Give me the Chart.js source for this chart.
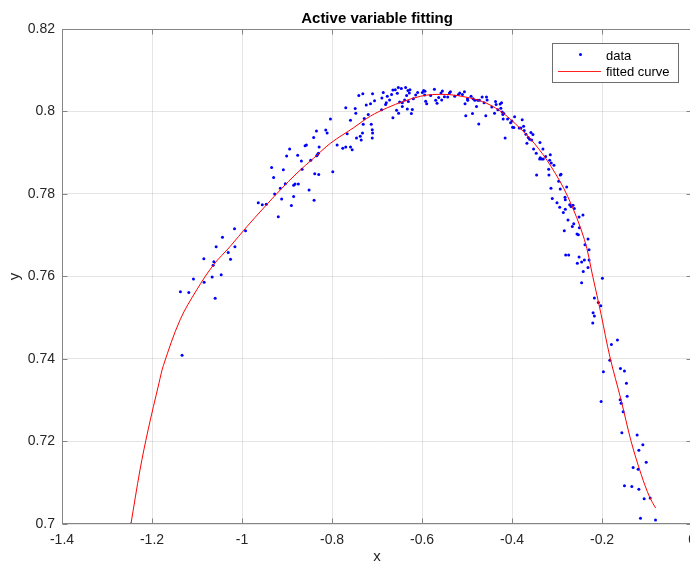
<!DOCTYPE html>
<html><head><meta charset="utf-8">
<script src="https://cdn.jsdelivr.net/npm/chart.js@4"></script>
<style>
html,body{margin:0;padding:0;overflow:hidden;background:#fff;width:690px;height:565px}
#wrap{position:absolute;left:0;top:0;width:704px;height:565px}
</style>
</head><body><div id="wrap"><canvas id="c" width="704" height="565"></canvas></div>
<script>
const chartTitle = 'Active variable fitting';
const xLabel = 'x';
const yLabel = 'y';
const xTicks = [-1.4, -1.2, -1, -0.8, -0.6, -0.4, -0.2, 0];
const yTicks = [0.7, 0.72, 0.74, 0.76, 0.78, 0.8, 0.82];
const legendLabels = ['data', 'fitted curve'];

const dataX = [
-1.1369,-1.1183,-1.1080,-1.1332,-1.0842,-1.0849,-1.0664,-1.0597,-1.0626,-1.0641,
-1.0575,-1.0463,-1.0434,-1.0307,-1.0256,-1.0167,-1.0158,-0.9922,-0.9639,-0.9550,
-0.9461,-0.9343,-0.9298,-0.9276,-0.9194,-0.9149,-0.9120,-0.9082,-0.9038,-0.9009,
-0.8942,-0.8904,-0.8853,-0.8853,-0.8822,-0.8764,-0.8748,-0.8681,-0.8666,-0.8599,
-0.8570,-0.8510,-0.8474,-0.8408,-0.8399,-0.8385,-0.8347,-0.8341,-0.8325,-0.8303,
-0.8287,-0.8296,-0.8140,-0.8109,-0.8036,
-0.7984,-0.7887,-0.7762,-0.7695,-0.7695,-0.7664,-0.7590,-0.7553,-0.7590,-0.7486,
-0.7472,-0.7457,-0.7405,-0.7374,-0.7352,-0.7323,-0.7316,-0.7307,-0.7285,-0.7240,
-0.7196,-0.7145,-0.7129,-0.7107,-0.7100,-0.7100,-0.7107,-0.7056,-0.6900,-0.6893,
-0.6862,-0.6811,-0.6795,-0.6773,-0.6722,-0.6677,-0.6648,-0.6648,-0.6595,-0.6566,
-0.6550,-0.6528,-0.6521,-0.6499,-0.6461,-0.6439,-0.6439,-0.6388,-0.6365,-0.6343,
-0.6327,-0.6314,-0.6305,-0.6283,-0.6269,-0.6238,-0.6216,-0.6194,-0.6142,-0.6098,
-0.5993,-0.5964,-0.5942,-0.5920,-0.5897,-0.5935,-0.5809,-0.5726,-0.5697,-0.5668,
-0.5630,-0.5579,-0.5564,-0.5548,-0.5503,-0.5430,-0.5392,-0.5370,-0.5274,-0.5192,
-0.5163,-0.5103,-0.5058,-0.5045,-0.5029,-0.4991,-0.4985,-0.4911,-0.4880,-0.4866,
-0.4828,-0.4791,-0.4762,-0.4740,-0.4724,-0.4666,-0.4622,-0.4584,-0.4568,-0.4555,
-0.4450,-0.4390,-0.4368,-0.4354,-0.4316,-0.4265,-0.4249,-0.4234,-0.4220,-0.4205,
-0.4183,-0.4198,-0.4154,-0.4100,-0.4033,-0.4004,-0.3944,-0.3989,-0.3960,
-0.3842,-0.3804,-0.3775,-0.3744,-0.3731,-0.3693,-0.3670,-0.3641,-0.3610,-0.3581,
-0.3566,-0.3537,-0.3522,-0.3463,-0.3455,-0.3381,-0.3388,-0.3374,-0.3343,-0.3314,
-0.3307,-0.3254,-0.3187,-0.3181,-0.3165,-0.3151,-0.3136,-0.3129,-0.3107,-0.3069,
-0.3002,-0.2964,-0.2942,-0.2929,-0.2913,-0.2929,-0.2862,-0.2840,-0.2824,-0.2817,
-0.2817,-0.2786,-0.2809,-0.2742,-0.2758,-0.2720,-0.2691,-0.2662,-0.2646,-0.2630,
-0.2617,-0.2557,-0.2528,-0.2550,-0.2512,-0.2512,-0.2505,-0.2455,-0.2455,-0.2425,
-0.2418,-0.2380,-0.2394,-0.2313,-0.2290,-0.2290,-0.2313,-0.1993,-0.2171,
-0.2082,-0.2029,-0.2200,-0.2171,-0.2207,-0.1793,-0.1659,-0.1829,-0.1971,-0.1592,
-0.1503,-0.1459,-0.2022,-0.1599,-0.1577,-0.1443,-0.1532,-0.1561,-0.1221,-0.1094,
-0.1183,-0.1020,-0.1310,-0.1199,-0.1503,-0.1339,-0.1183,-0.1065,-0.0932,-0.1147,
-0.0813,-1.2468
];
const dataY = [
0.7563,0.7561,0.7594,0.7409,0.7586,0.7643,0.7599,0.7547,0.7636,0.7627,
0.7672,0.7604,0.7695,0.7658,0.7642,0.7716,0.7672,0.7711,0.7779,0.7774,
0.7775,0.7864,0.7840,0.7800,0.7745,0.7814,0.7788,0.7859,0.7825,0.7892,
0.7909,0.7772,0.7794,0.7821,0.7824,0.7894,0.7824,0.7880,0.7860,0.7917,
0.7919,0.7810,0.7882,0.7937,0.7785,0.7849,0.7953,0.7893,0.7895,0.7899,
0.7914,0.7847,0.7955,0.7948,0.7982,
0.7854,0.7919,0.7911,0.7914,0.8009,0.7946,0.7914,0.7907,0.7979,0.8007,
0.7996,0.7936,0.8039,0.7940,0.7931,0.7948,0.8043,0.7969,0.7983,0.8016,
0.7993,0.8019,0.7969,0.7956,0.8043,0.7948,0.7936,0.8026,0.8004,0.8033,
0.8046,0.8017,0.8021,0.8037,0.8028,0.8041,0.8052,0.7985,0.8053,0.8003,
0.8044,0.8058,0.7996,0.8023,0.8056,0.8021,0.8012,0.8028,0.8058,0.8039,
0.8006,0.8051,0.8024,0.8045,0.8053,0.7995,0.8005,0.8031,0.8040,0.8046,
0.8046,0.8051,0.8040,0.8025,0.8019,0.8049,0.8039,0.8054,0.8027,0.8020,
0.8034,0.8045,0.8028,0.8050,0.8036,0.8035,0.8045,0.8048,0.8037,0.8041,
0.8045,0.8041,0.8048,0.8019,0.7990,0.8031,0.8027,0.8037,0.7995,0.8031,
0.8027,0.8012,0.8027,0.7970,0.8027,0.8035,0.8021,0.7990,0.8035,0.8028,
0.8011,0.7996,0.8024,0.8017,0.8004,0.8018,0.8008,0.8021,0.7999,0.7993,
0.7995,0.7982,0.7936,0.7982,0.7973,0.7977,0.7987,0.7962,0.7961,
0.7960,0.7960,0.7980,0.7964,0.7954,0.7945,0.7923,0.7937,0.7933,0.7949,
0.7931,0.7944,0.7909,0.7899,0.7846,0.7925,0.7885,0.7888,0.7885,0.7909,
0.7885,0.7891,0.7860,0.7846,0.7882,0.7895,0.7814,0.7875,0.7789,0.7870,
0.7779,0.7831,0.7768,0.7846,0.7848,0.7812,0.7755,0.7711,0.7792,0.7786,
0.7763,0.7817,0.7652,0.7652,0.7737,0.7774,0.7770,0.7721,0.7773,0.7728,
0.7765,0.7703,0.7701,0.7632,0.7647,0.7744,0.7718,0.7635,0.7585,0.7749,
0.7612,0.7677,0.7640,0.7691,0.7665,0.7640,0.7622,0.7596,0.7548,
0.7537,0.7529,0.7512,0.7504,0.7487,0.7435,0.7446,0.7397,0.7369,0.7377,
0.7371,0.7341,0.7297,0.7301,0.7293,0.7310,0.7272,0.7221,0.7216,0.7192,
0.7179,0.7150,0.7137,0.7133,0.7093,0.7091,0.7084,0.7061,0.7063,0.7014,
0.7010,0.7000
];

const fitX = [-1.2468,-1.2267,-1.2087,-1.1844,-1.1748,-1.1376,-1.1004,-1.0635,-1.0263,-0.9891,
-0.9521,-0.9149,-0.8777,-0.8408,-0.8036,-0.7517,-0.7145,-0.6773,-0.6403,-0.6031,
-0.5771,-0.5401,-0.5029,-0.4657,-0.4287,-0.3915,-0.3508,-0.3136,-0.2764,-0.2394,
-0.2207,-0.2022,-0.1826,-0.1577,-0.1354,-0.1131,-0.0947,-0.0813];
const fitY = [0.7000,0.7131,0.7228,0.7342,0.7384,0.7495,0.7568,0.7628,0.7673,0.7721,
0.7766,0.7810,0.7851,0.7887,0.7923,0.7961,0.7989,0.8009,0.8025,0.8037,
0.8041,0.8041,0.8035,0.8024,0.8003,0.7969,0.7923,0.7867,0.7794,0.7690,
0.7600,0.7508,0.7405,0.7300,0.7200,0.7120,0.7066,0.7039];

const FONT = '"Liberation Sans", Arial, Helvetica, sans-serif';
const fmt = v => String(Math.round(v * 100) / 100);

const pts = [];
for (let i = 0; i < Math.min(dataX.length, dataY.length); i++) pts.push({x: dataX[i], y: dataY[i]});
const fitPts = fitX.map((v, i) => ({x: v, y: fitY[i]}));

const boxPlugin = {
  id: 'matlabBox',
  afterDatasetsDraw(chart) {
    const {ctx, chartArea: a, scales: {x, y}} = chart;
    ctx.save();
    ctx.strokeStyle = '#858585';
    ctx.lineWidth = 1;
    const L = Math.round(a.left) + 0.5, R = Math.round(a.right) - 0.5;
    const T = Math.round(a.top) + 0.5, B = Math.round(a.bottom) - 0.5;
    ctx.beginPath();
    ctx.rect(L, T, R - L, B - T);
    ctx.stroke();
    ctx.beginPath();
    xTicks.forEach(v => {
      const p = Math.round(x.getPixelForValue(v)) + 0.5;
      ctx.moveTo(p, B); ctx.lineTo(p, B - 5);
      ctx.moveTo(p, T); ctx.lineTo(p, T + 5);
    });
    yTicks.forEach(v => {
      const p = Math.round(y.getPixelForValue(v)) + 0.5;
      ctx.moveTo(L, p); ctx.lineTo(L + 5, p);
      ctx.moveTo(R, p); ctx.lineTo(R - 5, p);
    });
    ctx.stroke();

    // legend box (top-right inside axes)
    const lx = Math.round(a.right) - 140, ly = Math.round(a.top) + 14, lw = 126, lh = 39;
    ctx.fillStyle = '#ffffff';
    ctx.fillRect(lx + 0.5, ly + 0.5, lw, lh);
    ctx.strokeStyle = '#6e6e6e';
    ctx.strokeRect(lx + 0.5, ly + 0.5, lw, lh);
    ctx.fillStyle = '#0000ff';
    ctx.beginPath();
    ctx.arc(lx + 28.5, ly + 11.5, 1.5, 0, Math.PI * 2);
    ctx.fill();
    ctx.fillStyle = '#ff2020';
    ctx.fillRect(lx + 6, ly + 28, 43, 1);
    ctx.fillStyle = '#000000';
    ctx.font = '13px ' + FONT;
    ctx.textBaseline = 'alphabetic';
    ctx.textAlign = 'left';
    ctx.fillText(legendLabels[0], lx + 54, ly + 16.5);
    ctx.fillText(legendLabels[1], lx + 54, ly + 32.5);
    ctx.restore();
  }
};

new Chart(document.getElementById('c'), {
  type: 'scatter',
  data: {
    datasets: [
      {
        label: legendLabels[1], data: fitPts, showLine: true,
        borderColor: '#ff0000', borderWidth: 1, pointRadius: 0,
        tension: 0.35, fill: false, order: 0
      },
      {
        label: legendLabels[0], data: pts, showLine: false,
        pointRadius: 1.5, pointBackgroundColor: '#0000ff', pointBorderWidth: 0,
        pointHoverRadius: 1.5, order: 1
      }
    ]
  },
  options: {
    responsive: false, animation: false, devicePixelRatio: 1,
    layout: {padding: {left: 0, right: 5, top: 0, bottom: 0}},
    plugins: {
      legend: {display: false},
      tooltip: {enabled: false},
      title: {
        display: true, text: chartTitle, fullSize: false, color: '#000000',
        font: {family: FONT, size: 15, weight: 'bold'}, padding: {top: 10, bottom: 1}
      }
    },
    scales: {
      x: {
        type: 'linear', position: 'bottom', min: -1.4, max: 0,
        afterBuildTicks: s => { s.ticks = xTicks.map(v => ({value: v})); },
        afterFit: s => { s.height = 41; },
        grid: {color: 'rgba(38,38,38,0.12)', drawTicks: false},
        border: {display: false},
        ticks: {padding: 8, color: '#262626', font: {family: FONT, size: 14}, callback: v => fmt(v), maxRotation: 0, autoSkip: false},
        title: {display: true, text: xLabel, color: '#262626', font: {family: FONT, size: 15}, padding: {top: 0, bottom: -1}}
      },
      y: {
        type: 'linear', position: 'left', min: 0.7, max: 0.82,
        afterBuildTicks: s => { s.ticks = yTicks.map(v => ({value: v})); },
        afterFit: s => { s.width = 62; },
        grid: {color: 'rgba(38,38,38,0.12)', drawTicks: false},
        border: {display: false},
        ticks: {padding: 7, color: '#262626', font: {family: FONT, size: 14}, callback: v => fmt(v), autoSkip: false},
        title: {display: true, text: yLabel, color: '#262626', font: {family: FONT, size: 15}, padding: {top: 6, bottom: 0}}
      }
    }
  },
  plugins: [boxPlugin]
});
</script>
</body></html>
